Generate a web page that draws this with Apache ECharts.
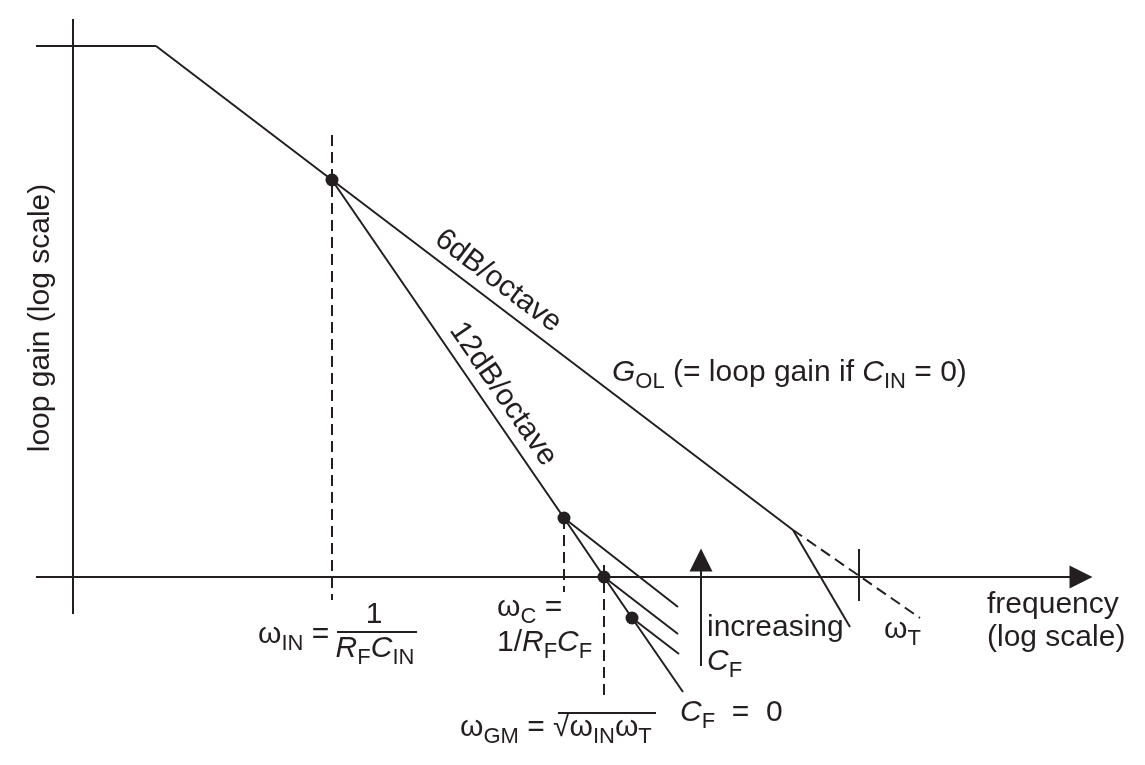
<!DOCTYPE html>
<html><head><meta charset="utf-8">
<script src="https://cdn.jsdelivr.net/npm/echarts@6/dist/echarts.min.js"></script>
<style>html,body{margin:0;padding:0;background:#fff}#c{width:1145px;height:765px}</style>
</head><body><div id="c"></div>
<script>
// Units: x = log frequency (0 at the gain axis), y = log loop gain (0 = unity gain)
const plateau = [[-3.7, 53.1], [8.3, 53.1]];
const openLoopGain = [[8.3, 53.1], [25.9, 39.7], [72.0, 4.7]];
const secondPole = [[72.0, 4.7], [77.7, -5.0]];
const extrapolatedGain = [[72.0, 4.7], [84.7, -4.1]];
const slope12dB = [[25.9, 39.7], [49.1, 5.9], [53.1, 0], [55.9, -4.1], [61.0, -11.5]];
const cfBranches = [[[49.1, 5.9], [60.5, -3.0]], [[53.1, 0], [60.5, -5.7]], [[55.9, -4.1], [60.6, -7.7]]];
const breakPoints = [[25.9, 39.7], [49.1, 5.9], [53.1, 0], [55.9, -4.1]];
const guideLines = [[[25.9, 44.2], [25.9, -2.3]], [[49.1, 5.9], [49.1, -1.5]], [[53.1, 1.2], [53.1, -12.2]]];
const omegaTTick = [[78.6, 2.8], [78.6, -2.4]];
const freqAxisLine = [[-3.7, 0], [100.8, 0]];
const gainAxisLine = [[0, 55.8], [0, -3.7]];
const increasingArrow = [[62.8, -8.9], [62.8, 1.7]];
const fractionBar = [[26.4, -5.5], [34.4, -5.5]];
const sqrtBar = [[48.5, -13.6], [58.3, -13.6]];

const labelTexts = [
  'loop gain (log scale)',
  'frequency',
  '(log scale)',
  'ω{s|T}',
  'increasing',
  '{i|C}{s|F}',
  '{i|C}{s|F}  =  0',
  'ω{s|GM} = √ω{s|IN}ω{s|T}',
  'ω{s|C} =',
  '1/{i|R}{s|F}{i|C}{s|F}',
  'ω{s|IN} =',
  '1',
  '{i|R}{s|F}{i|C}{s|IN}',
  '6dB/octave',
  '12dB/octave',
  '{i|G}{s|OL} (= loop gain if {i|C}{s|IN} = 0)'
];
const labelAnchors = [
  [-3.2, 25.9], [91.4, -2.8], [91.4, -6.1], [81.1, -5.3], [63.4, -5.1], [63.4, -8.5],
  [60.7, -13.6], [38.7, -15.1], [42.4, -3.1], [42.4, -6.6], [18.5, -5.8], [30.1, -3.8],
  [30.2, -7.2], [42.5, 29.6], [43.0, 18.3], [53.9, 20.4]
];
const labelRotations = [90, 0, 0, 0, 0, 0, 0, 0, 0, 0, 0, 0, 0, -37.2, -55.5, 0];
const labelCentered = [true, false, false, false, false, false, false, false, false, false, false, true, true, true, true, false];

const INK = '#231f20';
const FONT = '"Liberation Sans", Arial, Helvetica, sans-serif';
const rich = {
  s: { fontFamily: FONT, fontSize: 22, color: INK, padding: [18, 0, 0, 0] },
  i: { fontFamily: FONT, fontSize: 30, color: INK, fontStyle: 'italic' }
};

function solid(data, extra) {
  return Object.assign({ type: 'line', data: data, showSymbol: false, symbol: 'none', silent: true,
    lineStyle: { color: INK, width: 2 }, z: 2 }, extra || {});
}
function dashed(data) {
  return solid(data, { lineStyle: { color: INK, width: 2, type: [11, 6] } });
}

const series = [
  solid(plateau), solid(openLoopGain), solid(secondPole), dashed(extrapolatedGain),
  solid(slope12dB), solid(omegaTTick), solid(gainAxisLine), solid(fractionBar),
  solid(sqrtBar, { lineStyle: { color: INK, width: 1.8 } })
];
cfBranches.forEach(b => series.push(solid(b)));
guideLines.forEach(g => series.push(dashed(g)));
series.push({
  type: 'lines', coordinateSystem: 'cartesian2d', silent: true, z: 3,
  symbol: ['none', 'triangle'], symbolSize: [12, 23],
  lineStyle: { color: INK, width: 2, opacity: 1 },
  itemStyle: { color: INK },
  data: [{ coords: freqAxisLine }, { coords: increasingArrow }]
});
series.push({
  type: 'scatter', data: breakPoints, symbolSize: 13, silent: true, z: 5,
  itemStyle: { color: INK, opacity: 1 }
});
series.push({
  type: 'scatter', symbolSize: 0, silent: true, z: 6,
  itemStyle: { opacity: 1 },
  data: labelTexts.map((t, k) => ({
    value: labelAnchors[k],
    label: {
      show: true, formatter: t, rotate: labelRotations[k],
      position: labelCentered[k] ? 'inside' : 'right', distance: 0,
      align: labelCentered[k] ? 'center' : 'left', verticalAlign: 'middle',
      fontFamily: FONT, fontSize: 30, color: INK, opacity: 1, rich: rich
    }
  }))
});

const chart = echarts.init(document.getElementById('c'), null, { renderer: 'canvas' });
chart.setOption({
  animation: false,
  backgroundColor: '#ffffff',
  grid: { left: 0, right: 0, top: 0, bottom: 0 },
  xAxis: { type: 'value', min: -7.3, max: 107.2, show: false },
  yAxis: { type: 'value', min: -18.8, max: 57.7, show: false },
  series: series
});
</script></body></html>
